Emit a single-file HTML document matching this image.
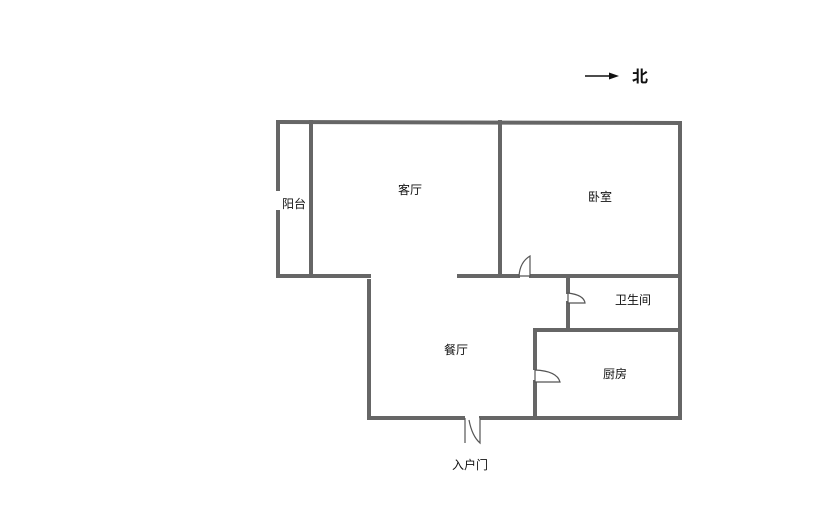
<!DOCTYPE html>
<html><head><meta charset="utf-8"><style>
html,body{margin:0;padding:0;background:#fff;width:833px;height:519px;overflow:hidden}
svg{display:block}
text{font-family:"Liberation Sans","Noto Sans CJK SC",sans-serif;fill:#111}
</style></head><body>
<svg width="833" height="519" viewBox="0 0 833 519">
<g stroke="#666" stroke-width="4" fill="none" stroke-linecap="square">
<line x1="278" y1="122" x2="680" y2="123"/>
<line x1="278" y1="122" x2="278" y2="189"/>
<line x1="278" y1="212" x2="278" y2="276"/>
<line x1="311" y1="122" x2="311" y2="276"/>
<line x1="500" y1="122" x2="500" y2="276"/>
<line x1="680" y1="123" x2="680" y2="418"/>
<line x1="278" y1="276" x2="369" y2="276"/>
<line x1="459" y1="276" x2="518" y2="276"/>
<line x1="531" y1="276" x2="680" y2="276"/>
<line x1="369" y1="281" x2="369" y2="418"/>
<line x1="369" y1="418" x2="463" y2="418"/>
<line x1="481" y1="418" x2="680" y2="418"/>
<line x1="568" y1="278" x2="568" y2="292"/>
<line x1="568" y1="303" x2="568" y2="330"/>
<line x1="535" y1="330" x2="680" y2="330"/>
<line x1="535" y1="330" x2="535" y2="368"/>
<line x1="535" y1="382" x2="535" y2="418"/>
</g>
<g stroke="#555" stroke-width="1.2" fill="#fff">
<path d="M530 276 L530 256 Q520 262 519 276 Z"/>
<path d="M568 293 L568 303 L585 303 Q584 295 568 293 Z"/>
<path d="M535 370 L535 382 L560 382 Q557 371 535 370 Z"/>
<path d="M480 418 L480 443 Q472 436 469 420"/>
<path d="M465 418 L465 443"/>
</g>
<line x1="585" y1="76" x2="612" y2="76" stroke="#111" stroke-width="1.5"/>
<path d="M619 76 L609 72.5 L609 79.5 Z" fill="#111"/>
<text x="632" y="82" font-size="16" font-weight="bold">北</text>
<g font-size="12" text-anchor="middle">
<text x="294" y="208">阳台</text>
<text x="410" y="194">客厅</text>
<text x="600" y="201">卧室</text>
<text x="633" y="304">卫生间</text>
<text x="456" y="354">餐厅</text>
<text x="615" y="378">厨房</text>
<text x="470" y="469">入户门</text>
</g>
</svg>
</body></html>
